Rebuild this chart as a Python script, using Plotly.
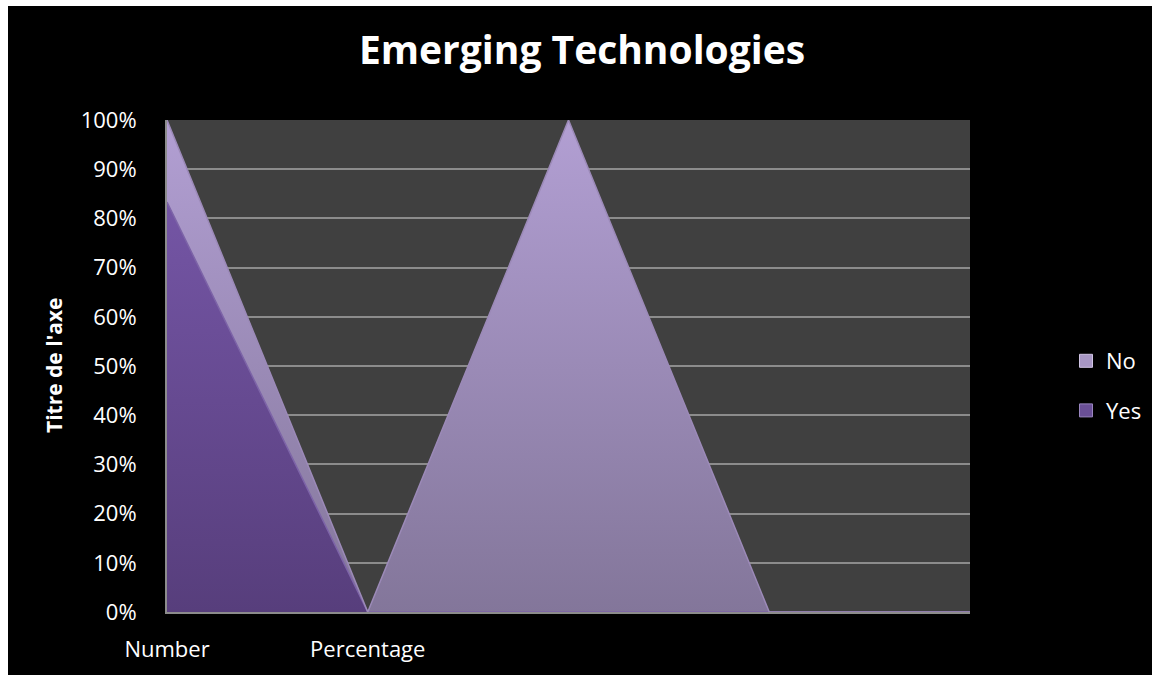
import plotly.graph_objects as go

# Category axis: two labelled categories followed by three unlabelled ones
categories = ["Number", "Percentage", "", "", ""]
# Share of responses per category (percent of the stacked total)
yes_share = [83.3, 0, 0, 0, 0]
no_share = [16.7, 0, 100, 0, 0]
y_ticks = [0, 10, 20, 30, 40, 50, 60, 70, 80, 90, 100]
y_tick_labels = [f"{v}%" for v in y_ticks]

x_pos = list(range(len(categories)))

W, H = 1152, 675
L, R, T, B = 167, 182, 120, 63
pw, ph = W - L - R, H - T - B


def px_x(p):
    return (p - L) / pw


def px_y(p):
    return (H - B - p) / ph


FONT = "Open Sans"

fig = go.Figure()

fig.add_trace(go.Scatter(
    x=x_pos, y=yes_share, name="Yes", stackgroup="s", mode="lines",
    line=dict(color="#7d64a8", width=1.5),
    fillgradient=dict(type="vertical", start=0, stop=100,
                      colorscale=[[0, "#573e7c"], [1, "#7a5aad"]]),
    showlegend=False, hoverinfo="x+y",
))
fig.add_trace(go.Scatter(
    x=x_pos, y=no_share, name="No", stackgroup="s", mode="lines",
    line=dict(color="#9c8ab8", width=1.5),
    fillgradient=dict(type="vertical", start=0, stop=100,
                      colorscale=[[0, "#83769a"], [1, "#b29fd3"]]),
    showlegend=False, hoverinfo="x+y",
))

# Legend entries drawn as square swatches
fig.add_trace(go.Scatter(
    x=[None], y=[None], mode="markers", name="No", legendrank=1,
    legendgroup="no",
    marker=dict(symbol="square", size=13, color="#a897c4",
                line=dict(color="#d0c4e4", width=1)),
))
fig.add_trace(go.Scatter(
    x=[None], y=[None], mode="markers", name="Yes", legendrank=2,
    legendgroup="yes",
    marker=dict(symbol="square", size=13, color="#6a4f96",
                line=dict(color="#9a86c0", width=1)),
))

# thin white strips along the top and left edges of the page
shapes = [
    dict(type="rect", xref="paper", yref="paper",
         x0=px_x(0), x1=px_x(8), y0=px_y(H), y1=px_y(0),
         fillcolor="white", line=dict(width=0), layer="above"),
    dict(type="rect", xref="paper", yref="paper",
         x0=px_x(0), x1=px_x(W), y0=px_y(6), y1=px_y(0),
         fillcolor="white", line=dict(width=0), layer="above"),
]

fig.update_layout(
    width=W, height=H,
    margin=dict(l=L, r=R, t=T, b=B),
    paper_bgcolor="black",
    plot_bgcolor="#404040",
    font=dict(family=FONT, color="white", size=22),
    title=dict(text="<b>Emerging Technologies</b>", xref="container",
               x=582 / W, xanchor="center", yref="container",
               y=1 - 50 / H, yanchor="middle",
               font=dict(family=FONT, size=39, color="white")),
    xaxis=dict(range=[0, 4], tickvals=x_pos, ticktext=categories,
               showgrid=False, zeroline=False,
               showline=True, linecolor="#8c8c8c", linewidth=2,
               ticks="", ticklabelstandoff=17,
               tickfont=dict(size=22, color="white")),
    yaxis=dict(range=[0, 100], tickvals=y_ticks, ticktext=y_tick_labels,
               showgrid=True, gridcolor="#8c8c8c", gridwidth=1.5,
               zeroline=False, showline=True, linecolor="#8c8c8c",
               linewidth=2, ticks="", ticklabelstandoff=24,
               tickfont=dict(size=22, color="white")),
    legend=dict(xref="container", yref="container",
                x=1066 / W, y=1 - 386 / H, xanchor="left",
                yanchor="middle", traceorder="grouped",
                tracegroupgap=18, bgcolor="rgba(0,0,0,0)",
                font=dict(size=22, color="white"),
                itemwidth=30),
    annotations=[dict(text="<b>Titre de l'axe</b>", textangle=-90,
                      xref="paper", yref="paper",
                      x=px_x(54), y=px_y(366), showarrow=False,
                      xanchor="center", yanchor="middle",
                      font=dict(family=FONT, size=21, color="white"))],
    shapes=shapes,
    showlegend=True,
)

fig.write_html("out.html")
